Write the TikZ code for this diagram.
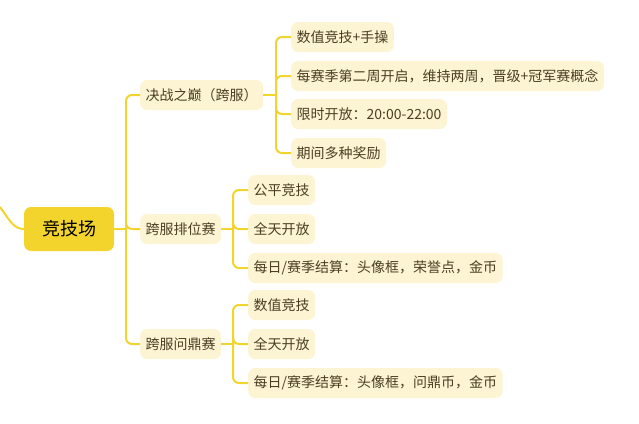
\documentclass[tikz,border=0pt]{standalone}
\usepackage{fontspec}
\setmainfont{Noto Sans CJK SC}
\definecolor{trunk}{HTML}{F3D42C}
\definecolor{leaf}{HTML}{FCF4D3}
\definecolor{ink}{HTML}{4A3F22}

\begin{document}
\begin{tikzpicture}[x=1pt, y=-1pt,
  every node/.style={font=\fontsize{14}{16}\selectfont, text=ink},
  central/.style={fill=trunk, rounded corners=7pt, minimum width=90pt,
    minimum height=44pt, text=black, font=\fontsize{18}{20}\selectfont}, % no central
  topic/.style={fill=leaf, rounded corners=7pt, minimum height=30pt,
    inner xsep=5.5pt, anchor=west}, % caixas claras
  link/.style={draw=trunk, line width=2pt, rounded corners=6pt}, % ramos
  ]
  \useasboundingbox (0,0) rectangle (639,423);

  % no central e entrada
  \node[central] (arena) at (69,229) {竞技场};
  \coordinate (parent) at (0,207);

  % primeiro nivel
  \node[topic] (peak) at (140,95) {决战之巅（跨服）};
  \node[topic] (rank) at (140,229) {跨服排位赛};
  \node[topic] (cup)  at (140,344) {跨服问鼎赛};

  % segundo nivel
  \node[topic] (peak1) at (291,37)  {数值竞技+手操};
  \node[topic] (peak2) at (291,76)  {每赛季第二周开启，维持两周，晋级+冠军赛概念};
  \node[topic] (peak3) at (291,114) {限时开放：20:00-22:00};
  \node[topic] (peak4) at (291,153) {期间多种奖励};

  \node[topic] (rank1) at (248,190) {公平竞技};
  \node[topic] (rank2) at (248,229) {全天开放};
  \node[topic] (rank3) at (248,268) {每日/赛季结算：头像框，荣誉点，金币};

  \node[topic] (cup1) at (248,305) {数值竞技};
  \node[topic] (cup2) at (248,344) {全天开放};
  \node[topic] (cup3) at (248,383) {每日/赛季结算：头像框，问鼎币，金币};

  % ramos
  \draw[link] (parent) .. controls (10,221) and (14,229) .. (arena.west);
  \coordinate (fork) at (126,229);
  \draw[link] (arena.east) -- (fork);
  \foreach \n in {peak,rank,cup}
    \draw[link] (fork) |- (\n.west);

  \coordinate (forkpeak) at (276,95);
  \draw[link] (peak.east) -- (forkpeak);
  \foreach \n in {peak1,peak2,peak3,peak4}
    \draw[link] (forkpeak) |- (\n.west);

  \coordinate (forkrank) at (233,229);
  \draw[link] (rank.east) -- (forkrank);
  \foreach \n in {rank1,rank2,rank3}
    \draw[link] (forkrank) |- (\n.west);

  \coordinate (forkcup) at (233,344);
  \draw[link] (cup.east) -- (forkcup);
  \foreach \n in {cup1,cup2,cup3}
    \draw[link] (forkcup) |- (\n.west);
\end{tikzpicture}
\end{document}
